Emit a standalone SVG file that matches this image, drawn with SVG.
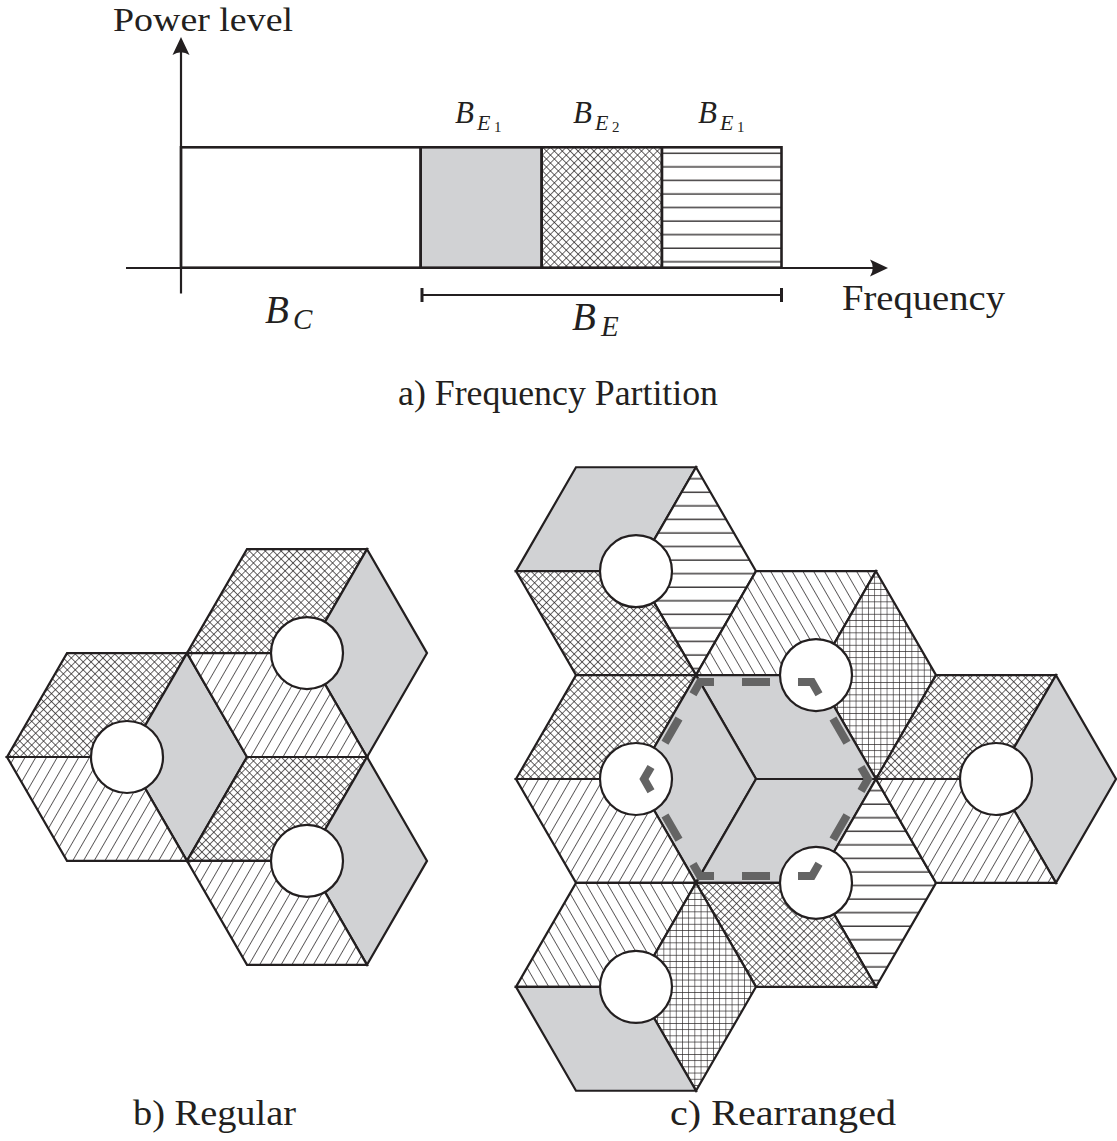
<svg xmlns="http://www.w3.org/2000/svg" width="1117" height="1141" viewBox="0 0 1117 1141">
  <defs>
    <style>
      .txt { font-family: "Liberation Serif", "DejaVu Serif", serif; fill: #231f20; }
      .mi { font-style: italic; }
      .ax { fill: none; stroke: #231f20; stroke-width: 2.2; }
      .box { stroke: #231f20; stroke-width: 2.6; }
      .edge { stroke: #231f20; stroke-width: 2.2; stroke-linejoin: miter; }
      .gray { fill: #d1d2d4; }
      .xh { fill: url(#xhatch); }
      .fw { fill: url(#fwd); }
      .bk { fill: url(#back); }
      .hz { fill: url(#horiz); }
      .gd { fill: url(#grid); }
      .bs { fill: #ffffff; stroke: #231f20; stroke-width: 2.2; }
      .dash { fill: none; stroke: #646464; stroke-width: 8; stroke-dasharray: 28 28; stroke-dashoffset: 14; }
    </style>
    <!-- diagonal cross hatch -->
    <pattern id="xhatch" patternUnits="userSpaceOnUse" width="5.6" height="5.6" patternTransform="rotate(45)">
      <rect width="5.6" height="5.6" fill="#fff"/>
      <path d="M0,0 H5.6 M0,0 V5.6" stroke="#231f20" stroke-width="1.3"/>
    </pattern>
    <!-- "/" hatch -->
    <pattern id="fwd" patternUnits="userSpaceOnUse" width="9.3" height="9.3" patternTransform="rotate(30)">
      <rect width="9.3" height="9.3" fill="#fff"/>
      <path d="M0,0 V9.3" stroke="#231f20" stroke-width="1.4"/>
    </pattern>
    <!-- "\" hatch -->
    <pattern id="back" patternUnits="userSpaceOnUse" width="9.3" height="9.3" patternTransform="rotate(-30)">
      <rect width="9.3" height="9.3" fill="#fff"/>
      <path d="M0,0 V9.3" stroke="#231f20" stroke-width="1.4"/>
    </pattern>
    <!-- horizontal lines -->
    <pattern id="horiz" patternUnits="userSpaceOnUse" x="0" y="147.3" width="20" height="13.56">
      <rect width="20" height="13.56" fill="#fff"/>
      <path d="M0,6 H20" stroke="#231f20" stroke-width="1.3"/>
    </pattern>
    <!-- square grid -->
    <pattern id="grid" patternUnits="userSpaceOnUse" width="6.2" height="6.2">
      <rect width="6.2" height="6.2" fill="#fff"/>
      <path d="M0,0 H6.2 M0,0 V6.2" stroke="#231f20" stroke-width="1.2"/>
    </pattern>
  </defs>

  <rect width="1117" height="1141" fill="#ffffff"/>

  <!-- a) frequency partition -->
  <g id="spectrum">
    <rect class="box" x="181" y="147.3" width="239.7" height="120.4" fill="#fff"/>
    <rect class="box gray" x="420.7" y="147.3" width="121" height="120.4"/>
    <rect class="box xh" x="541.7" y="147.3" width="120.3" height="120.4"/>
    <rect class="box hz" x="662" y="147.3" width="119.5" height="120.4"/>
  </g>

  <g id="axes">
    <path class="ax" d="M126,268 H874"/>
    <path d="M888,268 L870,259.5 Q875.5,268 870,276.5 Z" fill="#231f20"/>
    <path class="ax" d="M181,293.5 V52"/>
    <path d="M181,37 L172.5,55 Q181,49.5 189.5,55 Z" fill="#231f20"/>
    <!-- B_E span -->
    <path class="ax" d="M422,295 H781.5"/>
    <path d="M422,288 V302 M781.5,288 V302" stroke="#231f20" stroke-width="3"/>
  </g>

  <g id="labels-a">
    <text class="txt" x="113" y="31" font-size="34" textLength="180" lengthAdjust="spacingAndGlyphs">Power level</text>
    <text class="txt" x="842" y="310" font-size="35" textLength="163" lengthAdjust="spacingAndGlyphs">Frequency</text>
    <text class="txt mi" x="265" y="323" font-size="39">B</text>
    <text class="txt mi" x="293" y="329" font-size="29">C</text>
    <text class="txt mi" x="572" y="330" font-size="39">B</text>
    <text class="txt mi" x="601" y="336" font-size="29">E</text>
    <text class="txt mi" x="455" y="123" font-size="31">B</text>
    <text class="txt mi" x="477" y="130" font-size="22">E</text>
    <text class="txt" x="494" y="132" font-size="15">1</text>
    <text class="txt mi" x="573" y="123" font-size="31">B</text>
    <text class="txt mi" x="595" y="130" font-size="22">E</text>
    <text class="txt" x="612" y="132" font-size="15">2</text>
    <text class="txt mi" x="698" y="123" font-size="31">B</text>
    <text class="txt mi" x="720" y="130" font-size="22">E</text>
    <text class="txt" x="737" y="132" font-size="15">1</text>
    <text class="txt" x="398" y="405" font-size="35" textLength="320" lengthAdjust="spacingAndGlyphs">a) Frequency Partition</text>
  </g>

  <!-- b) regular layout -->
  <g id="b-cell-1">
    <polygon class="edge xh" points="7,757 67,653.08 187,653.08 127,757"/>
    <polygon class="edge gray" points="127,757 187,653.08 247,757 187,860.92"/>
    <polygon class="edge fw" points="7,757 127,757 187,860.92 67,860.92"/>
    <circle class="bs" cx="127" cy="757" r="36"/>
  </g>
  <g id="b-cell-2">
    <polygon class="edge xh" points="187,653.08 247,549.15 367,549.15 307,653.08"/>
    <polygon class="edge gray" points="307,653.08 367,549.15 427,653.08 367,757"/>
    <polygon class="edge fw" points="187,653.08 307,653.08 367,757 247,757"/>
    <circle class="bs" cx="307" cy="653.08" r="36"/>
  </g>
  <g id="b-cell-3">
    <polygon class="edge xh" points="187,860.92 247,757 367,757 307,860.92"/>
    <polygon class="edge gray" points="307,860.92 367,757 427,860.92 367,964.85"/>
    <polygon class="edge fw" points="187,860.92 307,860.92 367,964.85 247,964.85"/>
    <circle class="bs" cx="307" cy="860.92" r="36"/>
  </g>

  <!-- c) rearranged layout -->
  <g id="c-cell-a">
    <polygon class="edge gray" points="516,571.15 576,467.23 696,467.23 636,571.15"/>
    <polygon class="edge hz" points="636,571.15 696,467.23 756,571.15 696,675.08"/>
    <polygon class="edge xh" points="516,571.15 636,571.15 696,675.08 576,675.08"/>
    <circle class="bs" cx="636" cy="571.15" r="36"/>
  </g>
  <g id="c-cell-b">
    <polygon class="edge bk" points="696,675.08 756,571.15 876,571.15 816,675.08"/>
    <polygon class="edge gd" points="816,675.08 876,571.15 936,675.08 876,779"/>
    <polygon class="edge gray" points="696,675.08 816,675.08 876,779 756,779"/>
    <circle class="bs" cx="816" cy="675.08" r="36"/>
  </g>
  <g id="c-cell-c">
    <polygon class="edge xh" points="516,779 576,675.08 696,675.08 636,779"/>
    <polygon class="edge gray" points="636,779 696,675.08 756,779 696,882.92"/>
    <polygon class="edge fw" points="516,779 636,779 696,882.92 576,882.92"/>
    <circle class="bs" cx="636" cy="779" r="36"/>
  </g>
  <g id="c-cell-d">
    <polygon class="edge gray" points="696,882.92 756,779 876,779 816,882.92"/>
    <polygon class="edge hz" points="816,882.92 876,779 936,882.92 876,986.85"/>
    <polygon class="edge xh" points="696,882.92 816,882.92 876,986.85 756,986.85"/>
    <circle class="bs" cx="816" cy="882.92" r="36"/>
  </g>
  <g id="c-cell-e">
    <polygon class="edge bk" points="516,986.85 576,882.92 696,882.92 636,986.85"/>
    <polygon class="edge gd" points="636,986.85 696,882.92 756,986.85 696,1090.77"/>
    <polygon class="edge gray" points="516,986.85 636,986.85 696,1090.77 576,1090.77"/>
    <circle class="bs" cx="636" cy="986.85" r="36"/>
  </g>
  <g id="c-cell-f">
    <polygon class="edge xh" points="876,779 936,675.08 1056,675.08 996,779"/>
    <polygon class="edge gray" points="996,779 1056,675.08 1116,779 1056,882.92"/>
    <polygon class="edge fw" points="876,779 996,779 1056,882.92 936,882.92"/>
    <circle class="bs" cx="996" cy="779" r="36"/>
  </g>

  <!-- outline of the shared central cell -->
  <g id="connectors">
    <path class="dash" d="M868,779 L812,682.01 L700,682.01 L644,779 L700,875.99 L812,875.99 Z"/>
  </g>

  <g id="captions">
    <text class="txt" x="133" y="1125" font-size="35" textLength="163" lengthAdjust="spacingAndGlyphs">b) Regular</text>
    <text class="txt" x="670" y="1125" font-size="35" textLength="226" lengthAdjust="spacingAndGlyphs">c) Rearranged</text>
  </g>
</svg>
